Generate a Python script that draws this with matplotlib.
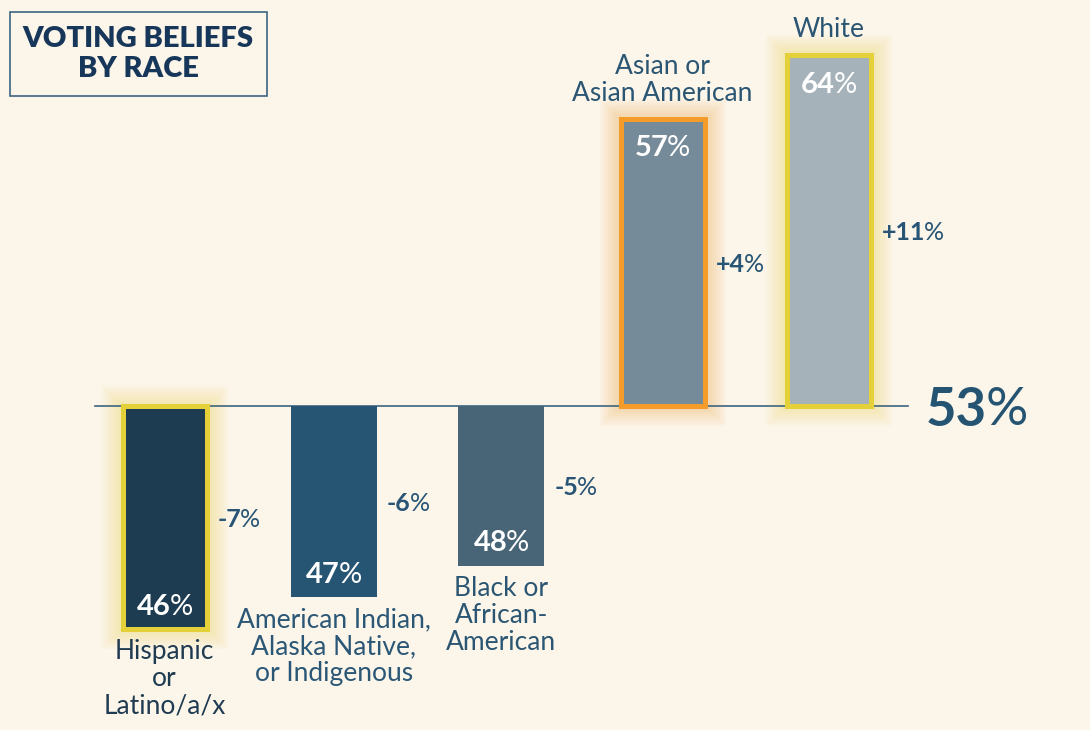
import numpy as np
import matplotlib.pyplot as plt
from matplotlib.patches import Rectangle
from matplotlib.transforms import offset_copy

plt.rcParams['font.family'] = ['Lato', 'DejaVu Sans']

## DATA
groups = ['Hispanic\nor\nLatino/a/x', 'American Indian,\nAlaska Native,\nor Indigenous',
          'Black or\nAfrican-\nAmerican', 'Asian or\nAsian American', 'White']
pct = [46, 47, 48, 57, 64]          # labelled share
bar_end = [46, 47, 48, 62, 64]      # bar ends as drawn in the picture
diff = ['-7', '-6', '-5', '+4', '+11']
avg = 53

## STYLE
bg = '#fcf5e9'
bar_col = ['#1e3c51', '#265574', '#486577', '#768b99', '#a6b2b9']
edge_col = ['#e4d13a', None, None, '#f49b2a', '#e4d13a']
lab_col = ['#1f3b52', '#2b5776', '#2b5673', '#2b5673', '#2b5673']
txt_col = '#285575'
xpos = [0, 1.02, 2.03, 3, 4]

# pixel helpers (axes fill the whole figure)
kx, ky = 166.0, 31.9
x0, y0 = -164.5 / kx, avg + 406 / ky
def px_x(p): return x0 + p / kx
def px_y(p): return y0 - p / ky

fig = plt.figure(figsize=(10.9, 7.3), dpi=100, facecolor=bg)
ax = fig.add_axes([0, 0, 1, 1])
ax.set_facecolor(bg)
ax.set_xlim(x0, x0 + 1090 / kx)
ax.set_ylim(y0 - 730 / ky, y0)
ax.axis('off')
r = fig.canvas.get_renderer()

def two_part(x, y, a, b, size, c, ha='center', gap=-1):
    t1 = ax.text(x, y, a, fontsize=size, fontweight='bold', color=c, va='center_baseline', ha='left', zorder=6)
    t2 = ax.text(x, y, b, fontsize=size, fontweight='normal', color=c, va='center_baseline', ha='left', zorder=6)
    wa = t1.get_window_extent(r).width
    wb = t2.get_window_extent(r).width
    s = -(wa + wb + gap) / 2 if ha == 'center' else 0
    t1.set_transform(offset_copy(ax.transData, fig=fig, x=s, y=0, units='dots'))
    t2.set_transform(offset_copy(ax.transData, fig=fig, x=s + wa + gap, y=0, units='dots'))

bw = 86 / kx
# glows
for i in range(5):
    if edge_col[i] is None:
        continue
    lo, hi = min(avg, bar_end[i]), max(avg, bar_end[i])
    for k in range(1, 11):
        pad = 2.0 * k
        ax.add_patch(Rectangle((xpos[i] - bw / 2 - pad / kx, lo - pad / ky),
                               bw + 2 * pad / kx, hi - lo + 2 * pad / ky,
                               facecolor=edge_col[i], edgecolor='none', alpha=0.035, zorder=1))

# baseline
ax.plot([px_x(95), px_x(908)], [avg, avg], color='#3d6580', lw=1.2, zorder=2)

# bars
for i in range(5):
    h = bar_end[i] - avg
    if edge_col[i] is None:
        ax.bar(xpos[i], h, bottom=avg, width=bw, color=bar_col[i], zorder=3)
    else:
        ax.bar(xpos[i], h, bottom=avg, width=84 / kx, color=bar_col[i],
               edgecolor=edge_col[i], linewidth=3.6, zorder=3)

# labels
for i in range(5):
    right = xpos[i] + 45 / kx
    mid = (avg + bar_end[i]) / 2
    two_part(right + 8 / kx, mid, diff[i], '%', 18, txt_col, ha='left')
    if bar_end[i] < avg:
        two_part(xpos[i], bar_end[i] + 25 / ky, str(pct[i]), '%', 21, 'white')
        ax.text(xpos[i], bar_end[i] - 10 / ky, groups[i], ha='center', va='top', fontsize=19,
                color=lab_col[i], linespacing=1.1, zorder=6)
    else:
        two_part(xpos[i], bar_end[i] - 27 / ky, str(pct[i]), '%', 21, 'white')
        ax.text(xpos[i], bar_end[i] + 13 / ky, groups[i], ha='center', va='bottom', fontsize=19,
                color=lab_col[i], linespacing=1.1, zorder=6)

# average label
two_part(px_x(926), avg, str(avg), '%', 38, '#255473', ha='left')

# title box
ax.add_patch(Rectangle((px_x(10), px_y(96)), 257 / kx, 84 / ky, facecolor='none',
                       edgecolor='#3d6580', lw=1.2, zorder=5))
ax.text(px_x(138), px_y(54), 'VOTING BELIEFS\nBY RACE', ha='center', va='center', fontsize=21,
        fontweight='heavy', color='#17375a', linespacing=1.2, zorder=6)

fig.savefig('out.png', dpi=100, facecolor=bg)
